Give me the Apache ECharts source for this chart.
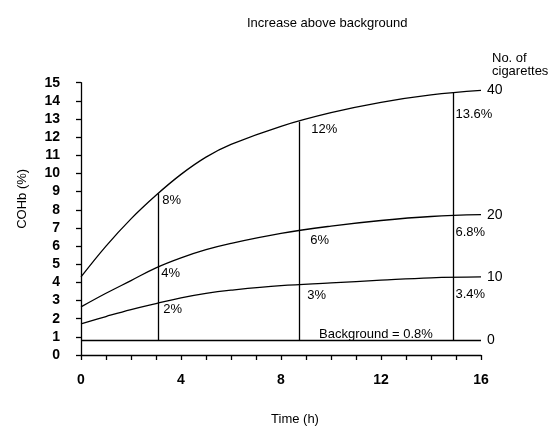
<!DOCTYPE html>
<html>
<head>
<meta charset="utf-8">
<script src="https://cdn.jsdelivr.net/npm/echarts@6/dist/echarts.min.js"></script>
<style>
html, body { margin: 0; padding: 0; background: #fff; }
#main { width: 550px; height: 431px; }
</style>
</head>
<body>
<div id="main"></div>
<script>
// time points (h)
var timeH = [0, 1, 2, 3, 4, 5, 6, 8, 10, 12, 14, 16];
// COHb (%) for 40, 20 and 10 cigarettes a day
var cig40 = [4.3, 6.0, 7.5, 8.8, 9.95, 10.9, 11.6, 12.6, 13.35, 13.92, 14.33, 14.58];
var cig20 = [2.65, 3.4, 4.1, 4.8, 5.35, 5.8, 6.15, 6.7, 7.1, 7.41, 7.63, 7.73];
var cig10 = [1.72, 2.12, 2.5, 2.83, 3.15, 3.4, 3.57, 3.82, 3.97, 4.12, 4.25, 4.3];
var background = 0.8;
var cigLabels = ['40', '20', '10', '0'];
// vertical markers: times and COHb on each curve at those times
var markTimes = [3.09, 8.73, 14.9];
var mark40 = [8.9, 12.85, 14.48];
var mark20 = [4.85, 6.87, 7.7];
var mark10 = [2.86, 3.86, 4.31];
var pct40 = ['8%', '12%', '13.6%'];
var pct20 = ['4%', '6%', '6.8%'];
var pct10 = ['2%', '3%', '3.4%'];

var font = '"Liberation Sans", Arial, sans-serif';
var ink = '#000';

function pairs(ys) {
    return timeH.map(function (t, i) { return [t, ys[i]]; });
}

// label offsets (px) below the curve, next to each marker
var offs40 = [[4, 0], [12, 1], [2, 16]];
var offs20 = [[3, 0], [11, 4], [2, 11]];
var offs10 = [[5, 0], [8, 4], [2, 11]];

function pctPoints(ys, texts, offs) {
    return markTimes.map(function (t, i) {
        return {
            value: [t, ys[i]],
            label: { show: true, formatter: texts[i], position: offs[i], color: ink }
        };
    });
}

function curve(ys, name) {
    return {
        type: 'line',
        data: pairs(ys),
        smooth: 0.4,
        symbol: 'none',
        silent: true,
        lineStyle: { color: ink, width: 1.3 },
        endLabel: {
            show: true, formatter: name, distance: 6,
            color: ink, fontSize: 14, fontFamily: font
        }
    };
}

var myChart = echarts.init(document.getElementById('main'));

var option = {
    backgroundColor: '#fff',
    animation: false,
    title: [
        { text: 'Increase above background', left: 242, top: 12,
          textStyle: { fontSize: 13, fontWeight: 'normal', color: ink, fontFamily: font } },
        { text: 'No. of\ncigarettes', left: 487, top: 47,
          textStyle: { fontSize: 13, fontWeight: 'normal', color: ink, fontFamily: font, lineHeight: 13 } },
        { text: 'Background = 0.8%', left: 314, top: 323,
          textStyle: { fontSize: 13, fontWeight: 'normal', color: ink, fontFamily: font } }
    ],
    grid: { left: 81, right: 69, top: 82.7, bottom: 71.7 },
    xAxis: {
        type: 'value', min: 0, max: 16, interval: 4,
        name: 'Time (h)', nameLocation: 'middle', nameGap: 58,
        nameTextStyle: { fontSize: 13, color: ink, fontFamily: font, padding: [0, 0, 0, 28] },
        axisLine: { lineStyle: { color: ink, width: 1.3 } },
        axisTick: { show: true, length: 5, lineStyle: { color: ink, width: 1.3 } },
        minorTick: { show: true, splitNumber: 4, length: 5, lineStyle: { color: ink, width: 1.3 } },
        splitLine: { show: false },
        axisLabel: { margin: 18, fontSize: 14, fontWeight: 'bold', color: ink, fontFamily: font }
    },
    yAxis: {
        type: 'value', min: 0, max: 15, interval: 1,
        name: 'COHb (%)', nameLocation: 'middle', nameGap: 52,
        nameTextStyle: { fontSize: 13, color: ink, fontFamily: font, padding: [0, 0, 0, 40] },
        axisLine: { lineStyle: { color: ink, width: 1.3 } },
        axisTick: { show: true, length: 5, lineStyle: { color: ink, width: 1.3 } },
        splitLine: { show: false },
        axisLabel: { margin: 21, fontSize: 14, fontWeight: 'bold', color: ink, fontFamily: font }
    },
    series: [
        curve(cig40, cigLabels[0]),
        curve(cig20, cigLabels[1]),
        curve(cig10, cigLabels[2]),
        {
            type: 'line',
            data: [[timeH[0], background], [timeH[timeH.length - 1], background]],
            symbol: 'none',
            silent: true,
            lineStyle: { color: ink, width: 1.3 },
            endLabel: {
                show: true, formatter: cigLabels[3], distance: 6,
                color: ink, fontSize: 14, fontFamily: font
            },
            markLine: {
                silent: true,
                symbol: 'none',
                label: { show: false },
                lineStyle: { color: ink, width: 1.3, type: 'solid' },
                data: markTimes.map(function (t, i) {
                    return [{ coord: [t, background] }, { coord: [t, mark40[i]] }];
                })
            }
        },
        {
            type: 'scatter',
            symbolSize: 0,
            silent: true,
            itemStyle: { color: ink, opacity: 1 },
            label: { show: true, color: ink, fontSize: 13, fontFamily: font },
            data: pctPoints(mark40, pct40, offs40)
                .concat(pctPoints(mark20, pct20, offs20))
                .concat(pctPoints(mark10, pct10, offs10))
        }
    ]
};

myChart.setOption(option);
window.addEventListener('resize', function () { myChart.resize(); });
</script>
</body>
</html>
